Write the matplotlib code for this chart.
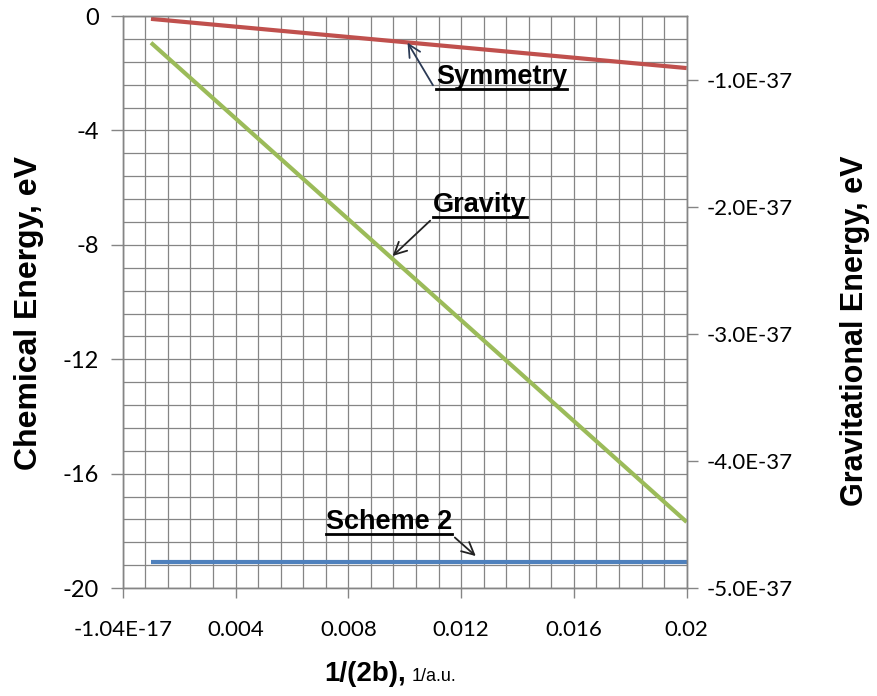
import matplotlib
matplotlib.use("Agg")
import matplotlib.pyplot as plt
from matplotlib.lines import Line2D
from matplotlib.text import Text
from matplotlib.ticker import MultipleLocator, FixedLocator

plt.rcParams["axes.unicode_minus"] = False

# series (x in 1/a.u.)
x_vals = [0.001, 0.02]
symmetry = [-0.10, -1.82]          # chemical energy, eV (left axis)
scheme2 = [-19.1, -19.1]           # chemical energy, eV (left axis)
gravity = [-0.71e-37, -4.48e-37]   # gravitational energy, eV (right axis)

x_ticks = [0, 0.004, 0.008, 0.012, 0.016, 0.02]
x_tick_labels = ["-1.04E-17", "0.004", "0.008", "0.012", "0.016", "0.02"]
left_ticks = [0, -4, -8, -12, -16, -20]
right_ticks = [-1e-37, -2e-37, -3e-37, -4e-37, -5e-37]
right_tick_labels = ["-1.0E-37", "-2.0E-37", "-3.0E-37", "-4.0E-37", "-5.0E-37"]

RED = "#C0504D"
GREEN = "#9BBB59"
BLUE = "#4F81BD"
GRID = "#858585"
TICK_FONT = "Lato"
BOLD_FONT = "Liberation Sans"

fig = plt.figure(figsize=(8.77, 6.96), dpi=100)
ax = fig.add_axes([0.140, 0.155, 0.643, 0.822])
ax2 = ax.twinx()

ax.plot(x_vals, symmetry, color=RED, lw=3, solid_capstyle="butt")
ax.plot(x_vals, scheme2, color=BLUE, lw=3, solid_capstyle="butt")
ax2.plot(x_vals, gravity, color=GREEN, lw=3, solid_capstyle="butt")

ax.set_xlim(0, 0.02)
ax.set_ylim(-20, 0)
ax2.set_ylim(-5e-37, -0.5e-37)

ax.xaxis.set_major_locator(FixedLocator(x_ticks))
ax.set_xticklabels(x_tick_labels)
ax.xaxis.set_minor_locator(MultipleLocator(0.0008))
ax.yaxis.set_major_locator(FixedLocator(left_ticks))
ax.yaxis.set_minor_locator(MultipleLocator(0.8))
ax2.yaxis.set_major_locator(FixedLocator(right_ticks))
ax2.set_yticklabels(right_tick_labels)

ax.grid(True, which="both", color=GRID, lw=0.9)
ax.set_axisbelow(True)
for a in (ax, ax2):
    for s in a.spines.values():
        s.set_color(GRID)
        s.set_linewidth(1.0)

ax.tick_params(axis="x", which="major", direction="out", length=7, width=1,
               color=GRID, pad=16, labelsize=16)
ax.tick_params(axis="y", which="major", direction="out", length=9, width=1,
               color=GRID, pad=8, labelsize=17)
ax.tick_params(which="minor", length=0)
ax2.tick_params(axis="y", direction="out", length=8, width=1, color=GRID,
                pad=6, labelsize=16)
for lab in ax.get_xticklabels() + ax.get_yticklabels() + ax2.get_yticklabels():
    lab.set_family(TICK_FONT)

# axis titles
fig.text(0.033, 0.55, "Chemical Energy, eV", rotation=90, ha="center",
         va="center", fontsize=23, fontweight="bold", family=BOLD_FONT)
fig.text(0.975, 0.525, "Gravitational Energy, eV", rotation=90, ha="center",
         va="center", fontsize=22, fontweight="bold", family=BOLD_FONT)
fig.text(0.463, 0.022, "1/(2b),", ha="right", va="baseline", fontsize=20,
         fontweight="bold", family=BOLD_FONT)
fig.text(0.469, 0.022, "1/a.u.", ha="left", va="baseline", fontsize=13,
         family=BOLD_FONT)

# callouts
notes = [
    ("Symmetry", (0.0101, -0.93), (0.0111, -2.13), (0, 0), "#2b3a55"),
    ("Gravity", (0.00957, -8.39), (0.0110, -6.61), (0, 0), "#222222"),
    ("Scheme 2", (0.01252, -18.88), (0.0072, -17.69), (1, 0), "#222222"),
]
anns = []
for label, tip, txt, rel, col in notes:
    a = ax2.annotate(label, xy=tip, xycoords=ax.transData, xytext=txt,
                     textcoords=ax.transData, ha="left", va="center",
                     fontsize=19.5, fontweight="bold", family=BOLD_FONT,
                     arrowprops=dict(arrowstyle="->", color=col, lw=1.3,
                                     relpos=rel, shrinkA=0, shrinkB=0,
                                     mutation_scale=22))
    anns.append(a)

fig.canvas.draw()
renderer = fig.canvas.get_renderer()
inv = fig.transFigure.inverted()
for a in anns:
    # text box only, without the arrow
    bb = Text.get_window_extent(a, renderer)
    (x0, y0), (x1, _) = inv.transform([(bb.x0, bb.y0 + 1), (bb.x1, bb.y0 + 1)])
    fig.add_artist(Line2D([x0, x1], [y0, y0], color="black", lw=2))

fig.savefig("out.png", dpi=100)
